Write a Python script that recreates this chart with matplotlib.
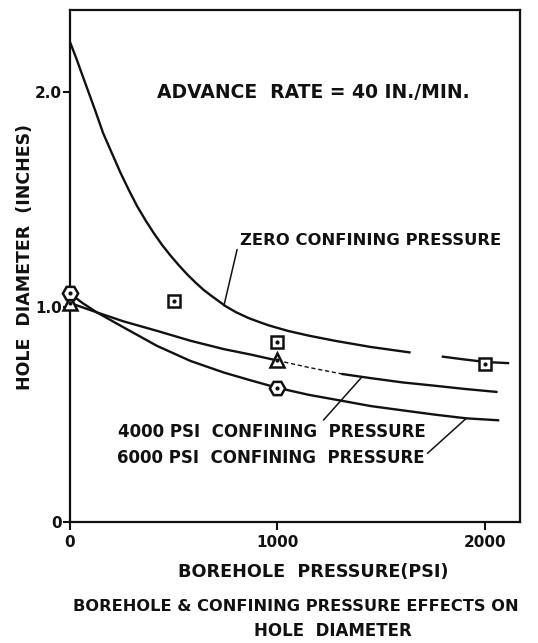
import numpy as np
import matplotlib
matplotlib.use("Agg")
import matplotlib.pyplot as plt

plt.rcParams['font.family'] = ['DejaVu Sans']
plt.rcParams['font.weight'] = 'bold'

# Curves (borehole pressure psi, hole diameter in.)
zero_x = [0, 30, 58, 90, 122, 160, 203, 244, 284, 324, 364, 404, 444, 485, 525, 565,
          605, 645, 686, 750, 800, 860, 910, 960, 1050, 1150, 1282, 1450, 1636, np.nan,
          1797, 1900, 2006, 2111]
zero_y = [2.235, 2.16, 2.085, 2.0, 1.915, 1.81, 1.715, 1.625, 1.545, 1.47, 1.405,
          1.345, 1.29, 1.24, 1.195, 1.153, 1.115, 1.08, 1.05, 1.005, 0.977, 0.950,
          0.932, 0.915, 0.89, 0.868, 0.843, 0.815, 0.79, np.nan, 0.77, 0.757, 0.745, 0.74]

p4000_x = [0, 130, 259, 420, 581, 742, 870, 1000, 1150, 1314, 1450, 1604, 1765, 1900, 2055]
p4000_y = [1.02, 0.976, 0.934, 0.89, 0.844, 0.805, 0.78, 0.752, 0.72, 0.689, 0.67,
           0.65, 0.634, 0.62, 0.606]

p6000_x = [0, 60, 130, 259, 420, 581, 742, 870, 1000, 1153, 1314, 1450, 1604, 1760, 1910, 2063]
p6000_y = [1.064, 1.02, 0.976, 0.906, 0.82, 0.75, 0.696, 0.66, 0.625, 0.592, 0.564,
           0.54, 0.52, 0.50, 0.483, 0.474]

# Test points
square_x = [500, 1000, 2000]
square_y = [1.03, 0.836, 0.735]
triangle_x = [0, 1000]
triangle_y = [1.02, 0.754]
hexagon_x = [0, 1000]
hexagon_y = [1.064, 0.623]

x_ticks = [0, 1000, 2000]
x_ticklabels = ['0', '1000', '2000']
y_ticks = [0, 1.0, 2.0]
y_ticklabels = ['0', '1.0', '2.0']

ink = '#111111'

fig = plt.figure(figsize=(5.38, 6.43), dpi=100)
ax = fig.add_axes([0.130, 0.188, 0.837, 0.797])

ax.plot(zero_x, zero_y, color=ink, lw=1.7, solid_joinstyle='round')

# 4000 psi curve has a faint dotted stretch just past the 1000 psi point
x4 = np.array(p4000_x, dtype=float)
y4 = np.array(p4000_y)
ax.plot(np.where(x4 <= 1000, x4, np.nan), y4, color=ink, lw=1.7, solid_joinstyle='round')
ax.plot(np.where(x4 >= 1314, x4, np.nan), y4, color=ink, lw=1.7, solid_joinstyle='round')
faint = (x4 >= 1000) & (x4 <= 1314)
ax.plot(x4[faint], y4[faint], color=ink, lw=1.0, ls=(0, (3, 2)))

ax.plot(p6000_x, p6000_y, color=ink, lw=1.7, solid_joinstyle='round')

mk = dict(ls='none', mfc='white', mec=ink, mew=1.8, clip_on=False, zorder=5)
ax.plot(square_x, square_y, marker='s', ms=8, **mk)
ax.plot(triangle_x, triangle_y, marker='^', ms=10, **mk)
ax.plot(hexagon_x, hexagon_y, marker='H', ms=11, **mk)
for xs, ys in [(square_x, square_y), (triangle_x, triangle_y), (hexagon_x, hexagon_y)]:
    ax.plot(xs, ys, ls='none', marker='o', ms=2, color=ink, clip_on=False, zorder=6)

ax.set_xlim(0, 2170)
ax.set_ylim(0, 2.385)
ax.set_xticks(x_ticks)
ax.set_xticklabels(x_ticklabels, fontsize=11, fontweight='bold')
ax.set_yticks(y_ticks)
ax.set_yticklabels(y_ticklabels, fontsize=11, fontweight='bold')
ax.tick_params(axis='x', direction='out', length=6, width=1.5, pad=3, colors=ink)
ax.tick_params(axis='y', direction='out', length=5, width=1.5, pad=1, colors=ink)
for s in ax.spines.values():
    s.set_linewidth(1.6)
    s.set_color(ink)

ax.text(419, 2.0, 'ADVANCE  RATE = 40 IN./MIN.', fontsize=13.5, fontweight='bold',
        ha='left', va='center', color=ink)

lead = dict(arrowstyle='-', lw=1.1, color=ink, shrinkA=0, shrinkB=0)
ax.annotate('ZERO CONFINING PRESSURE', xy=(742, 1.007), xytext=(819, 1.31),
            fontsize=11.8, fontweight='bold', ha='left', va='center', color=ink,
            arrowprops=dict(relpos=(0, 0.7), **lead))
ax.annotate('4000 PSI  CONFINING  PRESSURE', xy=(1402, 0.67), xytext=(231, 0.42),
            fontsize=12, fontweight='bold', ha='left', va='center', color=ink,
            arrowprops=dict(relpos=(0.66, 1.0), **lead))
ax.annotate('6000 PSI  CONFINING  PRESSURE', xy=(1910, 0.483), xytext=(227, 0.30),
            fontsize=12, fontweight='bold', ha='left', va='center', color=ink,
            arrowprops=dict(relpos=(1.0, 0.6), **lead))

fig.text(0.046, 0.60, 'HOLE  DIAMETER  (INCHES)', rotation=90, fontsize=12.5,
         fontweight='bold', ha='center', va='center', color=ink)
fig.text(0.582, 0.111, 'BOREHOLE  PRESSURE(PSI)', fontsize=12.7, fontweight='bold',
         ha='center', va='center', color=ink)
fig.text(0.55, 0.056, 'BOREHOLE & CONFINING PRESSURE EFFECTS ON', fontsize=11.7,
         fontweight='bold', ha='center', va='center', color=ink)
fig.text(0.619, 0.018, 'HOLE  DIAMETER', fontsize=12, fontweight='bold',
         ha='center', va='center', color=ink)

fig.savefig('out.png', dpi=100, facecolor='white')
